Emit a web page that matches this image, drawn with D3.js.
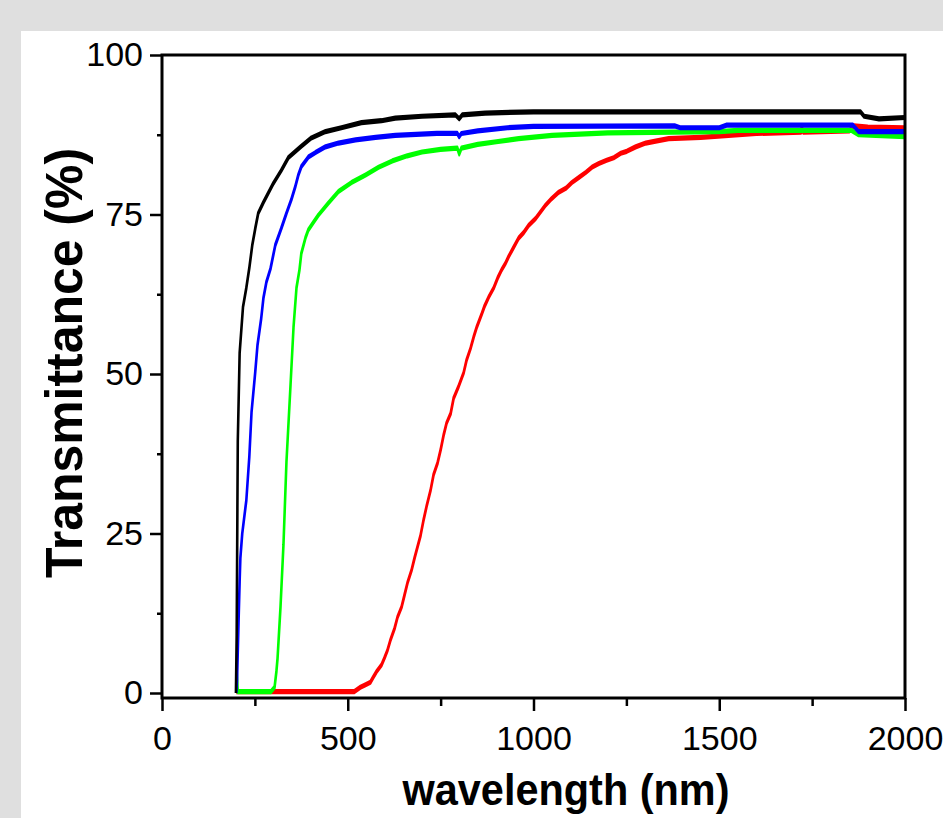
<!DOCTYPE html>
<html>
<head>
<meta charset="utf-8">
<script src="https://cdn.jsdelivr.net/npm/d3@7"></script>
<style>
  body { margin: 0; background: #dfdfdf; }
  svg { display: block; }
</style>
</head>
<body>
<script>
// [wavelength (nm), transmittance (%)]
var redCurve = [[200,0.2],[517,0.2],[534,0.9],[548,1.3],[561,1.7],[569,2.5],[577,3.3],[591,4.4],[599,5.5],[607,6.7],[615,8.3],[626,10.1],[634,11.9],[645,13.5],[653,15.4],[661,17.3],[672,19.3],[680,21.2],[696,24.7],[704,27.1],[712,29.2],[723,31.8],[731,34.2],[742,36.1],[750,38.1],[758,40.4],[766,42.3],[777,43.8],[785,46.2],[798,48],[812,50.2],[820,52.2],[831,54.1],[839,55.8],[847,57.3],[860,59.3],[868,60.6],[879,62],[893,63.5],[904,65.1],[914,66.3],[925,67.4],[933,68.4],[947,69.9],[960,71.3],[974,72.2],[987,73.3],[1006,74.4],[1019,75.4],[1033,76.5],[1049,77.5],[1068,78.5],[1087,79.1],[1103,80],[1122,80.8],[1141,81.6],[1157,82.4],[1176,83],[1197,83.5],[1216,83.9],[1235,84.6],[1251,84.9],[1275,85.6],[1302,86.2],[1329,86.5],[1364,86.9],[1450,87.1],[1600,87.7],[1720,87.9],[1722,88.7],[1726,87.9],[1850,88.1],[1862,88.9],[1900,88.7],[2000,88.6]];

var greenCurve = [[200,0],[201,3.5],[204,0.2],[293,0.2],[303,0.9],[308,3.4],[311,5.4],[319,13.5],[327,23.3],[335,36.2],[346,48.3],[354,57.3],[362,63.5],[370,66.3],[375,68.9],[386,71.3],[394,72.6],[408,73.8],[421,74.9],[448,76.8],[475,78.6],[510,80],[548,81.2],[583,82.4],[620,83.4],[660,84.2],[700,84.8],[750,85.2],[795,85.4],[800,84.5],[806,85.4],[850,86],[900,86.4],[960,86.9],[1050,87.4],[1200,87.8],[1380,87.9],[1500,88],[1550,88.2],[1855,88.2],[1875,87.5],[2000,87.2]];

var blueCurve = [[200,0],[202,2],[206,11],[209,17.5],[211,21.2],[216,25],[227,30.2],[235,37],[241,44],[251,50.3],[257,54.5],[267,58.7],[273,61.9],[281,64.4],[292,66.5],[305,70.2],[321,72.8],[335,75.2],[348,77.3],[359,79.4],[367,81.2],[375,82.5],[394,84],[413,84.7],[440,85.6],[475,86.2],[521,86.7],[575,87.1],[628,87.4],[740,87.7],[795,87.7],[800,87.2],[806,87.7],[850,88.1],[930,88.6],[1000,88.8],[1380,88.9],[1395,88.6],[1500,88.6],[1520,89],[1860,89],[1875,88],[2000,88]];

var blackCurve = [[199,0],[201,9],[204,39.5],[209,53.3],[218,60.5],[227,63.5],[235,66.6],[243,70.2],[251,72.8],[259,75.2],[273,76.9],[300,79.9],[321,81.9],[340,83.9],[373,85.6],[402,87],[440,88],[483,88.6],[537,89.4],[591,89.7],[628,90.1],[700,90.4],[790,90.6],[800,90],[808,90.6],[870,90.9],[1000,91.1],[1880,91.1],[1890,90.4],[1930,90],[2000,90.2]];

var seriesColors = ['#ff0000', '#00ff00', '#0000ff', '#000000'];
var xMajorTicks = [0, 500, 1000, 1500, 2000];
var xMinorTicks = [250, 750, 1250, 1750];
var yMajorTicks = [0, 25, 50, 75, 100];
var yMinorTicks = [12.5, 37.5, 62.5, 87.5];

var fontFamily = '"Liberation Sans", Arial, sans-serif';

var svg = d3.select('body').append('svg')
    .attr('width', 943)
    .attr('height', 818);

svg.append('rect')
    .attr('width', 943).attr('height', 818)
    .attr('fill', '#dfdfdf');
svg.append('rect')
    .attr('x', 21).attr('y', 31)
    .attr('width', 922).attr('height', 787)
    .attr('fill', '#ffffff');

var x = d3.scaleLinear().domain([0, 2000]).range([162, 905]);
var y = d3.scaleLinear().domain([0, 100]).range([693, 55]);
var axisY = 698;

// curves: drawn in a vertically stretched group so flat parts look thicker, like the original
var yHalf = y.copy().range(y.range().map((v) => v / 2));
var line = d3.line()
    .x((d) => x(d[0]))
    .y((d) => yHalf(d[1]));

var lineGroup = svg.append('g').attr('transform', 'scale(1,2)');
[redCurve, greenCurve, blueCurve, blackCurve].forEach((curve, i) => {
    lineGroup.append('path')
        .datum(curve)
        .attr('fill', 'none')
        .attr('stroke', seriesColors[i])
        .attr('stroke-width', 2.6)
        .attr('stroke-linejoin', 'round')
        .attr('d', line);
});

// axes
function styleAxis(g) {
    g.select('.domain').remove();
    g.selectAll('line').attr('stroke', '#000').attr('stroke-width', 2.5);
    g.selectAll('text')
        .attr('fill', '#000')
        .attr('font-family', fontFamily)
        .attr('font-size', 34);
}

svg.append('g')
    .attr('transform', `translate(0,${axisY})`)
    .call(d3.axisBottom(x).tickValues(xMajorTicks).tickSize(13).tickPadding(15).tickFormat(d3.format('d')))
    .call(styleAxis);

svg.append('g')
    .attr('transform', `translate(0,${axisY})`)
    .call(d3.axisBottom(x).tickValues(xMinorTicks).tickSize(8).tickFormat(''))
    .call(styleAxis);

svg.append('g')
    .attr('transform', `translate(${x(0)},0)`)
    .call(d3.axisLeft(y).tickValues(yMajorTicks).tickSize(12).tickPadding(7).tickFormat(d3.format('d')))
    .call(styleAxis);

svg.append('g')
    .attr('transform', `translate(${x(0)},0)`)
    .call(d3.axisLeft(y).tickValues(yMinorTicks).tickSize(5).tickFormat(''))
    .call(styleAxis);

// frame
svg.append('rect')
    .attr('x', x(0)).attr('y', y(100))
    .attr('width', x(2000) - x(0))
    .attr('height', axisY - y(100))
    .attr('fill', 'none')
    .attr('stroke', '#000')
    .attr('stroke-width', 3);

// titles
svg.append('text')
    .attr('transform', 'translate(82,363) rotate(-90)')
    .attr('text-anchor', 'middle')
    .attr('font-family', fontFamily)
    .attr('font-weight', 'bold')
    .attr('font-size', 52)
    .attr('textLength', 430)
    .attr('lengthAdjust', 'spacingAndGlyphs')
    .text('Transmittance (%)');

svg.append('text')
    .attr('x', 566)
    .attr('y', 805)
    .attr('text-anchor', 'middle')
    .attr('font-family', fontFamily)
    .attr('font-weight', 'bold')
    .attr('font-size', 45)
    .attr('textLength', 327)
    .attr('lengthAdjust', 'spacingAndGlyphs')
    .text('wavelength (nm)');
</script>
</body>
</html>
